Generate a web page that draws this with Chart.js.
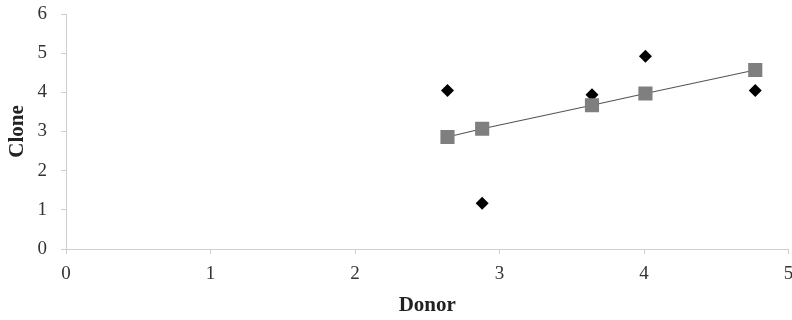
<!DOCTYPE html>
<html>
<head>
<meta charset="utf-8">
<script src="https://cdn.jsdelivr.net/npm/chart.js@4.4.0/dist/chart.umd.min.js"></script>
<style>
    html, body { margin: 0; padding: 0; background: #fff; overflow: hidden; }
    #wrap { width: 800px; height: 320px; }
</style>
</head>
<body>
<div id="wrap"><canvas id="chart" width="800" height="320"></canvas></div>
<script>
/* ---- data ---- */
const donor = [2.64, 2.88, 3.64, 4.01, 4.77];
const cloneObserved = [4.05, 1.17, 3.94, 4.92, 4.05];
const clonePredicted = [2.86, 3.07, 3.67, 3.97, 4.57];
const xTicks = [0, 1, 2, 3, 4, 5];
const yTicks = [0, 1, 2, 3, 4, 5, 6];

const axisGray = "#cfcfcf";
const serif = "'Liberation Serif', 'Times New Roman', serif";

function toPoints(ys) {
    return donor.map((x, i) => ({ x: x, y: ys[i] }));
}

new Chart(document.getElementById("chart"), {
    type: "scatter",
    data: {
        datasets: [
            {
                label: "Predicted",
                data: toPoints(clonePredicted),
                showLine: true,
                borderColor: "#555555",
                borderWidth: 1.2,
                pointStyle: "rect",
                pointRadius: 10,
                pointBackgroundColor: "#7f7f7f",
                pointBorderColor: "#7f7f7f",
                pointBorderWidth: 0,
                order: 1
            },
            {
                label: "Observed",
                data: toPoints(cloneObserved),
                pointStyle: "rectRot",
                pointRadius: 6.5,
                pointBackgroundColor: "#000000",
                pointBorderColor: "#000000",
                pointBorderWidth: 0,
                order: 2
            }
        ]
    },
    options: {
        responsive: false,
        animation: false,
        layout: { padding: { top: 14, right: 11.5, left: 0, bottom: 0 } },
        plugins: {
            legend: { display: false },
            tooltip: { enabled: false }
        },
        scales: {
            x: {
                type: "linear",
                min: xTicks[0],
                max: xTicks[xTicks.length - 1],
                afterBuildTicks: s => { s.ticks = xTicks.map(v => ({ value: v })); },
                afterFit: s => { s.height = 71; s.paddingLeft = 0; s.paddingRight = 0; },
                border: { color: axisGray, width: 1 },
                grid: { drawOnChartArea: false, tickLength: 5, color: axisGray },
                ticks: {
                    padding: 9,
                    color: "#333333",
                    font: { family: serif, size: 19 }
                },
                title: {
                    display: true,
                    text: "Donor",
                    color: "#222",
                    padding: { top: 0, bottom: 2 },
                    font: { family: serif, size: 21, weight: "bold" }
                }
            },
            y: {
                type: "linear",
                min: yTicks[0],
                max: yTicks[yTicks.length - 1],
                afterBuildTicks: s => { s.ticks = yTicks.map(v => ({ value: v })); },
                afterFit: s => { s.width = 66; s.paddingTop = 0; s.paddingBottom = 0; },
                border: { color: axisGray, width: 1 },
                grid: { drawOnChartArea: false, tickLength: 5, color: axisGray },
                ticks: {
                    padding: 14,
                    color: "#333333",
                    font: { family: serif, size: 19 }
                },
                title: {
                    display: true,
                    text: "Clone",
                    color: "#222",
                    padding: { top: 5, bottom: 0 },
                    font: { family: serif, size: 21, weight: "bold" }
                }
            }
        }
    }
});
</script>
</body>
</html>
